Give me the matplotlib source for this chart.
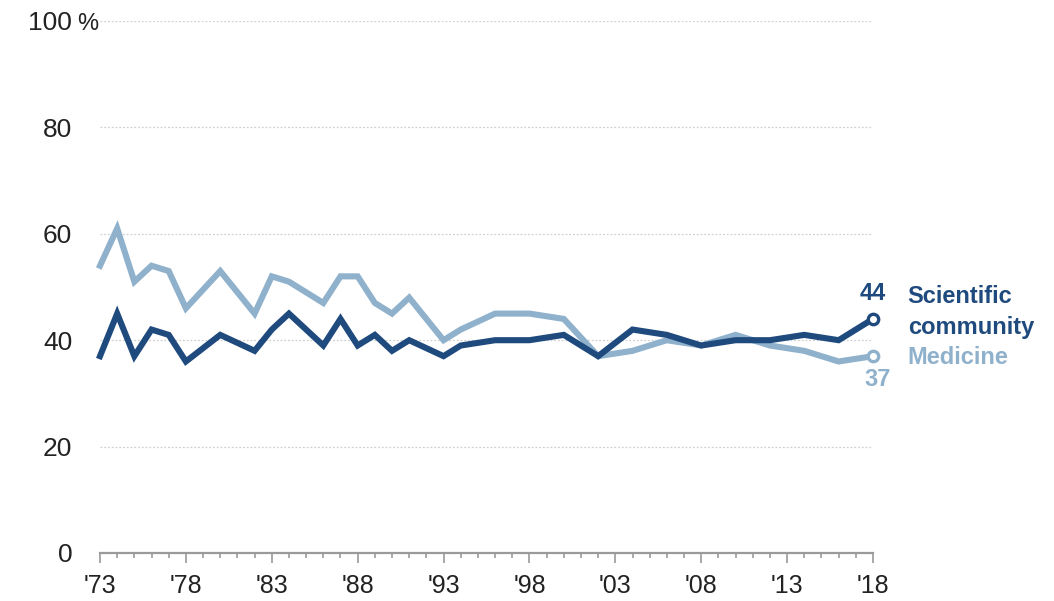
import matplotlib
matplotlib.use("Agg")
import matplotlib.pyplot as plt
from matplotlib.ticker import MultipleLocator, FixedLocator
import matplotlib.transforms as mtransforms

years = [1973, 1974, 1975, 1976, 1977, 1978, 1980, 1982, 1983, 1984, 1986, 1987,
         1988, 1989, 1990, 1991, 1993, 1994, 1996, 1998, 2000, 2002, 2004, 2006,
         2008, 2010, 2012, 2014, 2016, 2018]
medicine = [54, 61, 51, 54, 53, 46, 53, 45, 52, 51, 47, 52, 52, 47, 45, 48, 40, 42,
            45, 45, 44, 37, 38, 40, 39, 41, 39, 38, 36, 37]
scientific = [37, 45, 37, 42, 41, 36, 41, 38, 42, 45, 39, 44, 39, 41, 38, 40, 37, 39,
              40, 40, 41, 37, 42, 41, 39, 40, 40, 41, 40, 44]
xtick_years = [1973, 1978, 1983, 1988, 1993, 1998, 2003, 2008, 2013, 2018]
xtick_labels = ["'73", "'78", "'83", "'88", "'93", "'98", "'03", "'08", "'13", "'18"]
ytick_vals = [0, 20, 40, 60, 80, 100]
ytick_labels = ["0", "20", "40", "60", "80", "100"]

DARK = "#1f4a7e"
LIGHT = "#8fb1cc"

plt.rcParams['font.family'] = ['Liberation Sans', 'DejaVu Sans']

W, H = 1054, 601
fig = plt.figure(figsize=(W / 100, H / 100), dpi=100)
ax = fig.add_axes([100 / W, (H - 553) / H, (873 - 100) / W, (553 - 21) / H])

ax.plot(years, medicine, color=LIGHT, lw=4.4, solid_joinstyle='miter', clip_on=False, zorder=3)
ax.plot(years, scientific, color=DARK, lw=4.4, solid_joinstyle='miter', clip_on=False, zorder=4)
ax.plot([years[-1]], [medicine[-1]], 'o', ms=7.5, mfc='white', mec=LIGHT, mew=2.4, clip_on=False, zorder=5)
ax.plot([years[-1]], [scientific[-1]], 'o', ms=7.5, mfc='white', mec=DARK, mew=2.4, clip_on=False, zorder=6)

ax.set_xlim(1973, 2018)
ax.set_ylim(0, 100)

for v in ytick_vals[1:]:
    ax.axhline(v, color='#d0d0d0', lw=0.9, ls=(0, (1.5, 1.5)), zorder=1)

for s in ['top', 'right', 'left']:
    ax.spines[s].set_visible(False)
ax.spines['bottom'].set_color('#9a9a9a')
ax.spines['bottom'].set_linewidth(1.6)

ax.xaxis.set_major_locator(FixedLocator(xtick_years))
ax.xaxis.set_minor_locator(MultipleLocator(1))
ax.set_xticklabels(xtick_labels)
ax.tick_params(axis='x', which='major', length=7, width=1.2, color='#9a9a9a',
               labelsize=18, pad=8, labelcolor='#222222')
ax.tick_params(axis='x', which='minor', length=3.5, width=1.2, color='#9a9a9a')

ax.set_yticks(ytick_vals)
ax.set_yticklabels(ytick_labels)
ax.tick_params(axis='y', length=0, labelsize=19, pad=20, labelcolor='#222222')
trans = mtransforms.blended_transform_factory(ax.transAxes, ax.transData)
ax.text(-23 / 773, 100, "%", transform=trans, fontsize=17, color='#222222',
        ha='left', va='center_baseline')

# End labels
ax.annotate("44", xy=(2018, scientific[-1]), xytext=(0, 18), textcoords='offset points',
            ha='center', va='center', fontsize=17, fontweight='bold', color=DARK,
            annotation_clip=False)
ax.annotate("37", xy=(2018, medicine[-1]), xytext=(3, -17), textcoords='offset points',
            ha='center', va='center', fontsize=17, fontweight='bold', color=LIGHT,
            annotation_clip=False)
ax.annotate("Scientific", xy=(2018, scientific[-1]), xytext=(25, 16),
            textcoords='offset points', ha='left', va='center', fontsize=17,
            fontweight='bold', color=DARK, annotation_clip=False)
ax.annotate("community", xy=(2018, scientific[-1]), xytext=(25, -6),
            textcoords='offset points', ha='left', va='center', fontsize=17,
            fontweight='bold', color=DARK, annotation_clip=False)
ax.annotate("Medicine", xy=(2018, medicine[-1]), xytext=(25, -1),
            textcoords='offset points', ha='left', va='center', fontsize=17,
            fontweight='bold', color=LIGHT, annotation_clip=False)

fig.savefig("out.png", dpi=100)
